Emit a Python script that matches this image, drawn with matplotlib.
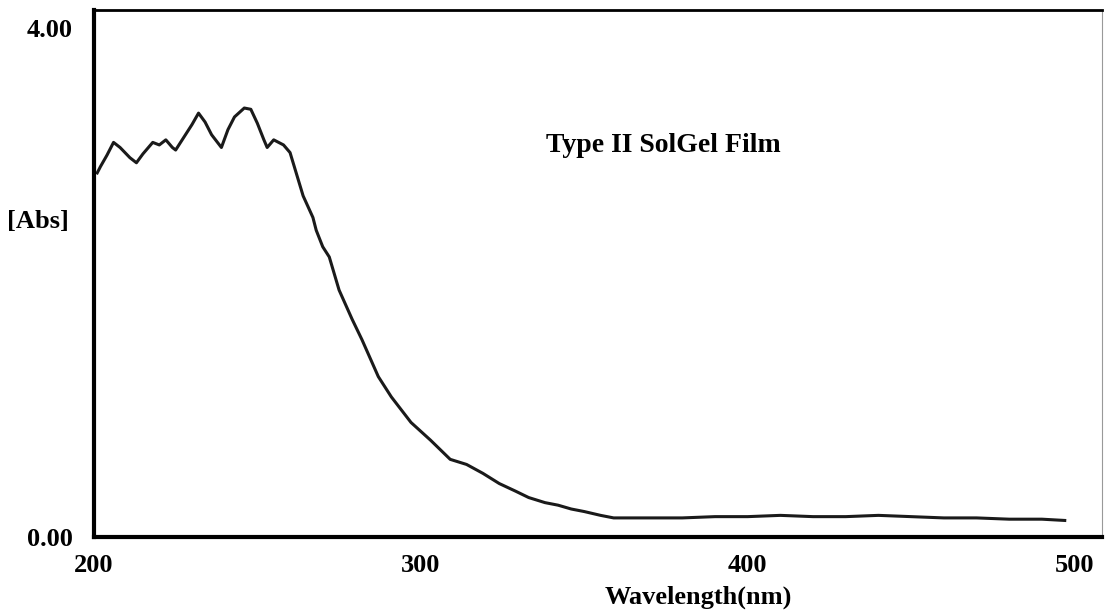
import matplotlib
matplotlib.use("Agg")
import matplotlib.pyplot as plt

# absorbance spectrum of the type II sol-gel film
wavelength = [201, 202, 204, 206, 208, 211, 213, 215, 218, 220, 222, 224, 225,
              227, 230, 232, 234, 236, 239, 241, 243, 246, 248, 250, 252, 253,
              255, 258, 260, 262, 264, 267, 268, 270, 272, 275, 279, 282, 287,
              291, 297, 303, 309, 314, 319, 324, 329, 333, 338, 342, 346, 350,
              355, 359, 365, 370, 380, 390, 400, 410, 420, 430, 440, 450, 460,
              470, 480, 490, 497]
absorbance = [2.86, 2.91, 3.00, 3.10, 3.06, 2.98, 2.94, 3.01, 3.10, 3.08, 3.12,
              3.06, 3.04, 3.12, 3.24, 3.33, 3.26, 3.16, 3.06, 3.20, 3.30, 3.37,
              3.36, 3.25, 3.12, 3.06, 3.12, 3.08, 3.02, 2.85, 2.68, 2.51, 2.41,
              2.28, 2.20, 1.94, 1.71, 1.55, 1.26, 1.10, 0.90, 0.76, 0.61, 0.57,
              0.50, 0.42, 0.36, 0.31, 0.27, 0.25, 0.22, 0.20, 0.17, 0.15, 0.15,
              0.15, 0.15, 0.16, 0.16, 0.17, 0.16, 0.16, 0.17, 0.16, 0.15, 0.15,
              0.14, 0.14, 0.13]

x_ticks = [200, 300, 400, 500]
y_ticks = [0.0, 4.0]
y_tick_labels = ["0.00", "4.00"]

plt.rcParams['font.family'] = ['Liberation Serif', 'DejaVu Serif']
plt.rcParams['font.weight'] = 'bold'

fig = plt.figure(figsize=(11.05, 6.14), dpi=100)
ax = fig.add_axes([0.085, 0.1254, 0.912, 0.8583])

ax.plot(wavelength, absorbance, color='#1a1a1a', lw=2.2)

ax.set_xlim(200, 508.3)
ax.set_ylim(0, 4.14)

ax.set_xticks(x_ticks)
ax.set_xticklabels([str(t) for t in x_ticks], fontsize=19, fontweight='bold')
ax.set_yticks(y_ticks)
ax.set_yticklabels(y_tick_labels, fontsize=19, fontweight='bold')
ax.tick_params(axis='x', length=0, pad=12)
ax.tick_params(axis='y', length=0, pad=15)

ax.set_xlabel('Wavelength(nm)', fontsize=19, fontweight='bold')
ax.xaxis.set_label_coords(0.60, -0.092)
ax.set_ylabel('[Abs]', fontsize=19, fontweight='bold', rotation=0,
              va='center', ha='center')
ax.yaxis.set_label_coords(-0.056, 0.598)

ax.text(0.449, 0.742, 'Type II SolGel Film', transform=ax.transAxes,
        fontsize=20, fontweight='bold', ha='left', va='center')

ax.spines['left'].set_linewidth(3)
ax.spines['bottom'].set_linewidth(3)
ax.spines['top'].set_linewidth(2)
ax.spines['right'].set_linewidth(0.8)
ax.spines['right'].set_color('#999999')

fig.savefig('out.png', dpi=100)
